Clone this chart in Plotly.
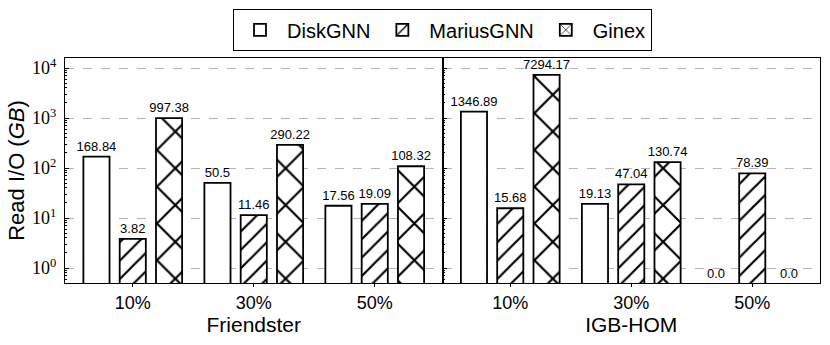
import plotly.graph_objects as go
from plotly.subplots import make_subplots

# ── Data ─────────────────────────────────────────────────────────────────────
ratios = ["10%", "30%", "50%"]
datasets = ["Friendster", "IGB-HOM"]
systems = ["DiskGNN", "MariusGNN", "Ginex"]

friendster_diskgnn = [168.84, 50.5, 17.56]
friendster_marius = [3.82, 11.46, 19.09]
friendster_ginex = [997.38, 290.22, 108.32]

igb_diskgnn = [1346.89, 19.13, 0.0]
igb_marius = [15.68, 47.04, 78.39]
igb_ginex = [7294.17, 130.74, 0.0]

decades = [0, 1, 2, 3, 4]

panels = [
    [friendster_diskgnn, friendster_marius, friendster_ginex],
    [igb_diskgnn, igb_marius, igb_ginex],
]

# ── Style ────────────────────────────────────────────────────────────────────
HATCH = {"DiskGNN": "", "MariusGNN": "/", "Ginex": "x"}
HATCH_SIZE = {"DiskGNN": 13, "MariusGNN": 13, "Ginex": 26}
SOLID = {"DiskGNN": 0.1, "MariusGNN": 0.17, "Ginex": 0.16}
SLOT = {"DiskGNN": -36.3, "MariusGNN": 0, "Ginex": 36.3}   # px offset of each bar in a group
SANS = "Liberation Sans, Arial, sans-serif"
SERIF = "Liberation Serif, serif"
GRID = "#b5b5b5"
LABEL_FONT = dict(family=SANS, size=13, color="black")

fig = make_subplots(rows=1, cols=2, shared_yaxes=True, horizontal_spacing=0)

for col, series in enumerate(panels, start=1):
    suffix = "" if col == 1 else str(col)
    for name, vals in zip(systems, series):
        fig.add_trace(
            go.Bar(
                x=ratios,
                y=vals,
                name=name,
                legendgroup=name,
                showlegend=(col == 1),
                text=[str(v) for v in vals],
                textposition="outside",
                constraintext="none",
                cliponaxis=False,
                textfont=LABEL_FONT,
                outsidetextfont=LABEL_FONT,
                marker=dict(
                    color="white",
                    line=dict(color="black", width=1.8),
                    pattern=dict(
                        shape=HATCH[name],
                        fgcolor="black",
                        bgcolor="white",
                        fgopacity=1,
                        size=HATCH_SIZE[name],
                        solidity=SOLID[name],
                    ),
                ),
                offsetgroup=name,
            ),
            row=1, col=col,
        )
        # zero values cannot sit on a log axis: label them at the floor
        for r, v in zip(ratios, vals):
            if v <= 0:
                fig.add_annotation(
                    x=r, y=-0.3, text=str(v), showarrow=False,
                    xref=f"x{suffix}", yref=f"y{suffix}",
                    xshift=SLOT[name], yanchor="bottom", yshift=0,
                    font=LABEL_FONT,
                )

fig.update_layout(
    width=830, height=345,
    paper_bgcolor="white", plot_bgcolor="white",
    margin=dict(l=65, r=10, t=57, b=62),
    barmode="group", bargap=0.1, bargroupgap=0.28,
    font=dict(family=SANS, color="black"),
    legend=dict(
        orientation="h", x=0.5, xanchor="center", y=1.212, yanchor="top",
        bordercolor="black", borderwidth=1.2, bgcolor="white",
        font=dict(family=SANS, size=20), itemwidth=44,
    ),
)

minor_vals = [m * 10 ** k for k in range(-1, 5) for m in range(2, 10)]

for col, title in enumerate(datasets, start=1):
    fig.update_xaxes(
        range=[-0.56, 2.56], showline=True, linecolor="black", linewidth=1.3,
        mirror=True, ticks="outside", ticklen=3, tickcolor="black",
        ticklabelstandoff=0,
        tickfont=dict(family=SANS, size=18),
        title=dict(text=title, font=dict(family=SANS, size=21), standoff=0),
        row=1, col=col,
    )
    fig.update_yaxes(
        type="log", range=[-0.3, 4.2],
        tickmode="array",
        tickvals=[10 ** d for d in decades],
        ticktext=[f"10<sup>{d}</sup>" for d in decades],
        showline=True, linecolor="black", linewidth=1.3, mirror=True,
        ticks="inside", ticklen=4, tickcolor="black", ticklabelstandoff=4,
        minor=dict(tickmode="array", tickvals=minor_vals, ticks="inside",
                   ticklen=2, tickcolor="black", showgrid=False),
        showgrid=True, gridcolor=GRID, griddash="dash", gridwidth=1,
        tickfont=dict(family=SERIF, size=18),
        row=1, col=col,
    )

fig.update_yaxes(
    title=dict(text="Read I/O (<i>GB</i>)", font=dict(family=SANS, size=22), standoff=1),
    row=1, col=1,
)
fig.update_yaxes(showticklabels=False, row=1, col=2)

# drop the browser's default body margin so the figure sits at (0, 0)
fig.write_html(
    "out.html",
    config={"displayModeBar": False},
    post_script="document.body.style.margin='0';",
)
